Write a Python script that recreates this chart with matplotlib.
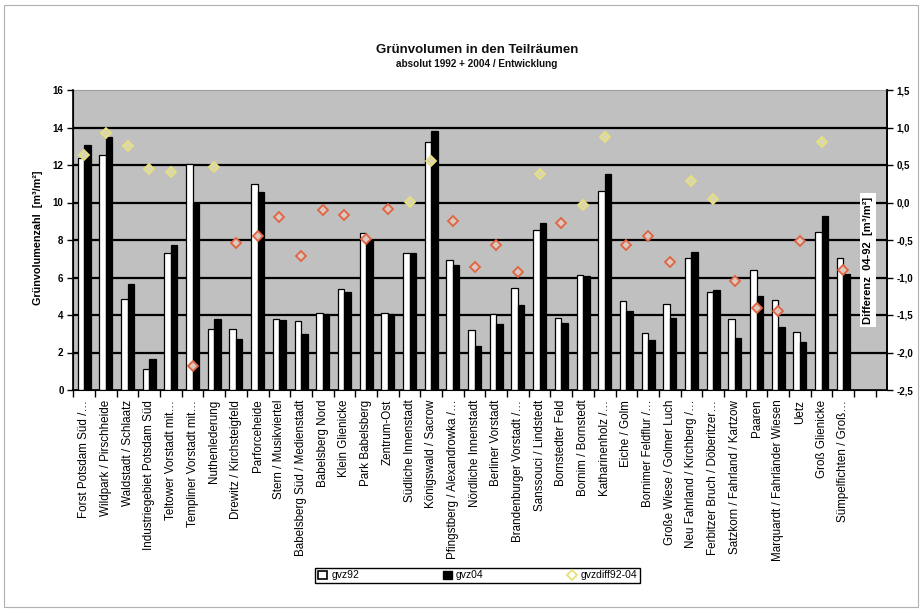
import matplotlib
matplotlib.use("Agg")
import matplotlib.pyplot as plt
import numpy as np
from matplotlib.patches import Patch, Rectangle
from matplotlib.lines import Line2D
from matplotlib.ticker import FixedLocator, FuncFormatter

plt.rcParams['font.family'] = ['Liberation Sans', 'DejaVu Sans']

categories = [
    "Forst Potsdam Süd /…", "Wildpark / Pirschheide", "Waldstadt / Schlaatz",
    "Industriegebiet Potsdam Süd", "Teltower Vorstadt mit…", "Templiner Vorstadt mit…",
    "Nuthenlederung", "Drewitz / Kirchsteigfeld", "Parforceheide",
    "Stern / Musikviertel", "Babelsberg Süd / Medienstadt", "Babelsberg Nord",
    "Klein Glienicke", "Park Babelsberg", "Zentrum-Ost", "Südliche Innenstadt",
    "Königswald / Sacrow", "Pfingstberg / Alexandrowka /…", "Nördliche Innenstadt",
    "Berliner Vorstadt", "Brandenburger Vorstadt /…", "Sanssouci / Lindstedt",
    "Bornstedter Feld", "Bornim / Bornstedt", "Katharinenholz /…", "Eiche / Golm",
    "Bornimer Feldflur /…", "Große Wiese / Golmer Luch", "Neu Fahrland / Kirchberg /…",
    "Ferbitzer Bruch / Döberitzer…", "Satzkorn / Fahrland / Kartzow", "Paaren",
    "Marquardt / Fahrländer Wiesen", "Uetz", "Groß Glienicke", "Sümpelfichten / Groß…",
]

gvz92 = [12.40, 12.54, 4.88, 1.14, 7.33, 12.05, 3.24, 3.24, 10.98, 3.81, 3.68, 4.13,
         5.37, 8.40, 4.09, 7.30, 13.24, 6.92, 3.18, 4.04, 5.43, 8.54, 3.83, 6.14,
         10.62, 4.75, 3.02, 4.57, 7.06, 5.25, 3.77, 6.41, 4.80, 3.10, 8.45, 7.06]
gvz04 = [13.06, 13.47, 5.64, 1.67, 7.74, 9.96, 3.81, 2.70, 10.57, 3.72, 2.97, 4.04,
         5.23, 8.01, 4.04, 7.33, 13.83, 6.67, 2.35, 3.52, 4.54, 8.93, 3.59, 6.09,
         11.51, 4.22, 2.65, 3.86, 7.38, 5.34, 2.76, 5.02, 3.38, 2.58, 9.29, 6.17]
gvzdiff = [0.64, 0.93, 0.75, 0.45, 0.41, -2.18, 0.48, -0.54, -0.45, -0.19, -0.71, -0.10,
           -0.17, -0.48, -0.08, 0.01, 0.56, -0.24, -0.86, -0.56, -0.93, 0.38, -0.27, -0.03,
           0.87, -0.56, -0.44, -0.79, 0.29, 0.05, -1.04, -1.41, -1.45, -0.51, 0.81, -0.90]

W, H = 923, 613
fig = plt.figure(figsize=(W / 100, H / 100), dpi=100)
fig.patch.set_facecolor('white')
fig.patches.append(Rectangle((4 / W, 1 - 607 / H), 914 / W, 602 / H, transform=fig.transFigure,
                             fill=False, edgecolor='#b0b0b0', linewidth=0.8))

left, right, top, bottom = 73.3, 886.7, 90, 390
ax = fig.add_axes([left / W, 1 - bottom / H, (right - left) / W, (bottom - top) / H])
ax.set_facecolor('#c0c0c0')

x = np.arange(len(categories))
bw = 0.3
ax.bar(x - bw / 2, gvz92, width=bw, color='white', edgecolor='black', linewidth=0.9, zorder=3)
ax.bar(x + bw / 2, gvz04, width=bw, color='black', edgecolor='black', linewidth=0.9, zorder=3)

ax.set_ylim(0, 16)
ax.set_xlim(-0.5, len(categories) + 1.0)
for g in range(2, 16, 2):
    ax.axhline(g, color='black', linewidth=1.6, zorder=1)

ax.set_yticks(range(0, 17, 2))
ax.tick_params(axis='y', labelsize=7, length=4, width=1, direction='out', pad=3)
for t in ax.get_yticklabels():
    t.set_fontweight('bold')

ax.set_xticks(x)
ax.set_xticklabels(categories, rotation=90, fontsize=8.4)
ax.tick_params(axis='x', length=0, pad=7)
ax.xaxis.set_minor_locator(FixedLocator(np.arange(-0.5, len(categories) + 1.0, 1.0)))
ax.tick_params(axis='x', which='minor', length=5, width=1, direction='out')

for s in ['left', 'bottom', 'right']:
    ax.spines[s].set_color('black')
    ax.spines[s].set_linewidth(1.2)
ax.spines['top'].set_color('#a0a0a0')
ax.spines['top'].set_linewidth(0.8)

ax2 = ax.twinx()
ax2.set_ylim(-2.5, 1.5)
ax2.set_yticks(np.arange(-2.5, 1.51, 0.5))
ax2.yaxis.set_major_formatter(FuncFormatter(lambda v, p: f"{v:.1f}".replace('.', ',')))
ax2.tick_params(axis='y', labelsize=7, length=4, width=1, direction='out', pad=3)
for t in ax2.get_yticklabels():
    t.set_fontweight('bold')
ax2.spines['right'].set_linewidth(1.2)
ax2.spines['top'].set_visible(False)

d = np.array(gvzdiff)
pos = d >= -0.05
ax2.plot(x[pos], d[pos], linestyle='none', marker='D', markersize=5,
         markerfacecolor='#d8d6b4', markeredgecolor='#e8e07c', markeredgewidth=1.3, zorder=5)
ax2.plot(x[~pos], d[~pos], linestyle='none', marker='D', markersize=5,
         markerfacecolor='#dcc8c2', markeredgecolor='#e0643f', markeredgewidth=1.3, zorder=5)

ax2.text((868 - left) / (right - left), (bottom - 260) / (bottom - top),
         "Differenz  04-92  [m³/m²]", rotation=90, ha='center', va='center',
         fontsize=8, fontweight='bold', transform=ax2.transAxes,
         bbox=dict(facecolor='white', edgecolor='none', pad=2.5), zorder=6)

fig.text(38 / W, 1 - 238 / H, "Grünvolumenzahl  [m³/m²]", rotation=90, ha='center', va='center',
         fontsize=7.8, fontweight='bold')

fig.text(477 / W, 1 - 50 / H, "Grünvolumen in den Teilräumen", ha='center', va='center',
         fontsize=9.5, fontweight='bold', color='#111111')
fig.text(477 / W, 1 - 64 / H, "absolut 1992 + 2004 / Entwicklung", ha='center', va='center',
         fontsize=7.2, fontweight='bold', color='#111111')

handles = [Patch(facecolor='white', edgecolor='black', linewidth=1.2),
           Patch(facecolor='black', edgecolor='black'),
           Line2D([], [], linestyle='none', marker='D', markersize=5,
                  markerfacecolor='white', markeredgecolor='#e8e07c', markeredgewidth=1.3)]
leg = fig.legend(handles, ['gvz92', 'gvz04', 'gvzdiff92-04'], loc='center',
                 bbox_to_anchor=(477.5 / W, 1 - 575.5 / H), ncol=3, fontsize=7.5,
                 frameon=True, fancybox=False, edgecolor='black', framealpha=1,
                 handlelength=0.9, handleheight=0.9, handletextpad=0.4,
                 columnspacing=8.0, borderpad=0.25)
leg.get_frame().set_linewidth(1.0)

fig.savefig('out.png', dpi=100, facecolor='white')
